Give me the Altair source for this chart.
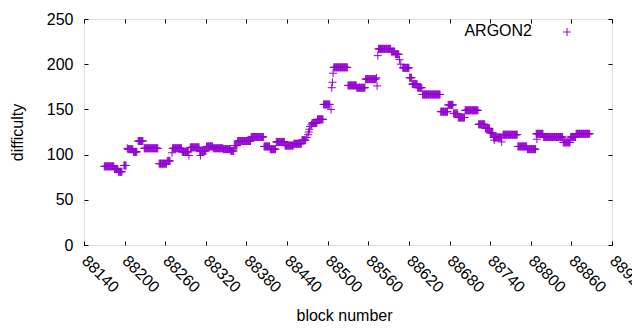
import altair as alt
import pandas as pd

# Runs of constant difficulty: first block, last block, value
run_start = [88170, 88185, 88191, 88199, 88204, 88205, 88213, 88220, 88229, 88251,
             88263, 88270, 88271, 88285, 88295, 88297, 88311, 88312, 88321, 88331,
             88346, 88357, 88362, 88367, 88387, 88406, 88415, 88424, 88437, 88450,
             88462, 88469, 88471, 88472, 88473, 88474, 88476, 88477, 88485, 88494,
             88505, 88506, 88507, 88508, 88509, 88530, 88543, 88556, 88572, 88573,
             88574, 88575, 88594, 88600, 88606, 88608, 88611, 88621, 88625, 88633,
             88640, 88667, 88678, 88686, 88693, 88703, 88723, 88733, 88740, 88745,
             88746, 88757, 88759, 88781, 88795, 88808, 88809, 88819, 88848, 88859,
             88867]
run_end = [88184, 88190, 88196, 88202, 88204, 88212, 88218, 88227, 88249, 88262,
           88267, 88270, 88284, 88294, 88295, 88310, 88320, 88312, 88330, 88345,
           88356, 88361, 88366, 88386, 88405, 88414, 88423, 88436, 88449, 88461,
           88467, 88469, 88471, 88472, 88473, 88474, 88476, 88484, 88493, 88503,
           88505, 88506, 88507, 88508, 88529, 88542, 88555, 88571, 88572, 88573,
           88574, 88593, 88599, 88605, 88606, 88608, 88620, 88624, 88632, 88639,
           88666, 88677, 88685, 88692, 88702, 88722, 88732, 88739, 88744, 88757,
           88746, 88757, 88780, 88794, 88807, 88818, 88809, 88847, 88858, 88866,
           88887]
run_value = [87, 84, 81, 88, 107, 106, 103, 115, 107, 90,
             93, 102, 107, 103, 99, 108, 104, 99, 109, 107,
             106, 104, 110, 115, 119.5, 109, 106, 114, 110, 112,
             116, 119, 122, 125, 128, 131, 133, 135, 139, 155.5,
             150, 174, 180, 190, 196.5, 176.5, 174, 183.5, 185, 176,
             209.5, 217, 214, 211, 205, 200, 196, 185, 178, 174,
             166.5, 147.5, 155, 145.5, 141, 149, 133.5, 129, 124, 119,
             116, 114, 122, 109, 106, 123, 117, 119.5, 113.5, 119.5,
             123]

series_name = ["ARGON2"]
x_ticks = [88140, 88200, 88260, 88320, 88380, 88440, 88500, 88560, 88620,
           88680, 88740, 88800, 88860, 88920]
y_ticks = [0, 50, 100, 150, 200, 250]

blocks, diffs = [], []
for s, e, v in zip(run_start, run_end, run_value):
    for b in range(s, e + 1):
        blocks.append(b)
        diffs.append(v)
df = pd.DataFrame({"block": blocks, "difficulty": diffs, "series": series_name[0]})
key_df = pd.DataFrame({"series": series_name})

PURPLE = "#9400d3"
FONT = "Liberation Sans"
FS = 16
CROSS = "M-1,0L1,0M0,-1L0,1"

xscale = alt.Scale(domain=[x_ticks[0], x_ticks[-1]], nice=False, zero=False)
yscale = alt.Scale(domain=[y_ticks[0], y_ticks[-1]], nice=False)

common_axis = dict(labelFont=FONT, labelFontSize=FS, labelColor="black",
                   titleFont=FONT, titleFontSize=FS, titleColor="black",
                   titleFontWeight="normal", grid=False, domain=False)

points = alt.Chart(df).mark_point(
    shape=CROSS, size=64, filled=False, strokeWidth=1, opacity=1, color=PURPLE
).encode(
    x=alt.X("block:Q", scale=xscale, axis=alt.Axis(
        values=x_ticks, format="d", orient="bottom", ticks=False, tickSize=0,
        labelAngle=45, labelAlign="left", labelBaseline="middle", labelPadding=13,
        labelOverlap=False, labelBound=False,
        title="block number", titleX=260, titleY=70, titleAlign="center",
        titleBaseline="middle", **common_axis)),
    y=alt.Y("difficulty:Q", scale=yscale, axis=alt.Axis(
        values=y_ticks, orient="left", ticks=False, tickSize=0, labelPadding=11,
        labelOverlap=False,
        title="difficulty", titleX=-67, titleY=113, titleAngle=270,
        titleAlign="center", titleBaseline="middle", **common_axis)),
)

tick_axis = dict(labels=False, ticks=True, tickSize=4, tickWidth=1, tickColor="black",
                 domain=False, grid=False, title=None, offset=-4)

ticks_bl = alt.Chart(df).mark_point(opacity=0).encode(
    x=alt.X("block:Q", scale=xscale, axis=alt.Axis(values=x_ticks, orient="bottom", **tick_axis)),
    y=alt.Y("difficulty:Q", scale=yscale, axis=alt.Axis(values=y_ticks, orient="left", **tick_axis)),
)
ticks_tr = alt.Chart(df).mark_point(opacity=0).encode(
    x=alt.X("block:Q", scale=xscale, axis=alt.Axis(values=x_ticks, orient="top", **tick_axis)),
    y=alt.Y("difficulty:Q", scale=yscale, axis=alt.Axis(values=y_ticks, orient="right", **tick_axis)),
)

# key (gnuplot style: label right-aligned, sample to its right)
key_text = alt.Chart(key_df).mark_text(
    font=FONT, fontSize=FS, color="black", align="right", baseline="middle"
).encode(text="series:N", x=alt.value(448), y=alt.value(12))
key_mark = alt.Chart(key_df).mark_point(
    shape=CROSS, size=64, filled=False, strokeWidth=1, opacity=1, color=PURPLE
).encode(x=alt.value(483), y=alt.value(13))

chart = alt.layer(points, ticks_bl, ticks_tr, key_text, key_mark).resolve_axis(
    x="independent", y="independent"
).properties(
    width=528, height=226,
    autosize=alt.AutoSizeParams(type="none"),
    padding={"left": 76, "top": 11, "right": 20, "bottom": 77},
).configure_view(stroke="black", strokeWidth=1).configure(background="white")

chart.save("out.html", embed_options={"renderer": "svg", "actions": False})
